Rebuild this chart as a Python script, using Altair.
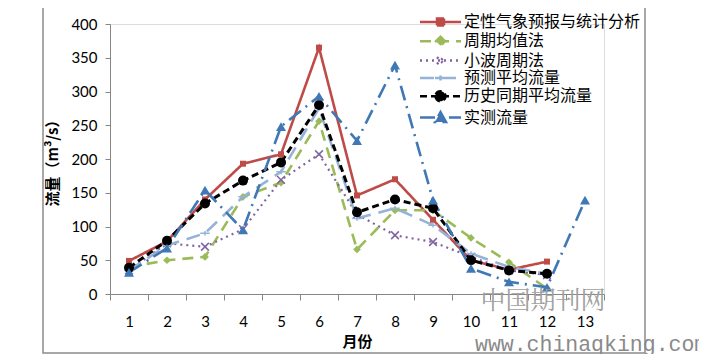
import altair as alt
import pandas as pd

months = list(range(1, 14))
series_names = ["定性气象预报与统计分析", "周期均值法", "小波周期法",
                "预测平均流量", "历史同期平均流量", "实测流量"]
red_vals = [49, 78, 140, 193, 207, 365, 146, 170, 110, 50, 36, 48]
green_vals = [40, 50, 55, 144, 165, 256, 66, 124, 124, 83, 47, 8]
purple_vals = [35, 75, 70, 96, 169, 207, 118, 87, 77, 55, 35, 28]
lblue_vals = [35, 72, 90, 144, 181, 275, 112, 127, 102, 60, 40, 30]
black_vals = [39, 79, 134, 168, 195, 280, 121, 140, 127, 50, 35, 30]
blue_vals = [32, 68, 154, 95, 248, 293, 227, 339, 139, 38, 18, 10, 139]
all_vals = [red_vals, green_vals, purple_vals, lblue_vals, black_vals, blue_vals]

rows = []
for name, vals in zip(series_names, all_vals):
    for m, v in zip(months, vals):
        rows.append({"series": name, "month": m, "value": v})
df = pd.DataFrame(rows)

colors = ["#BE4B48", "#9BBB59", "#8064A2", "#95B3D7", "#000000", "#3F78B5"]
dashes = [[1, 0], [11, 7], [2, 4], [14, 8], [7, 4], [15, 6, 2, 6]]
widths = [2.6, 2.6, 2.2, 2.6, 3.0, 2.6]
shapes = ["square", "diamond", "M-1,-1L1,1M-1,1L1,-1", "M-1,0H1M0,-0.5V0.5",
          "circle", "triangle-up"]
sizes = [36, 60, 60, 90, 100, 100]
filled = [True, True, False, False, True, True]

# legend symbols: size 100 -> 5px per unit, symbol centre at 5px from legend left
legend_paths = [
    "M-1,0H7.2M2.4,-0.7H3.8V0.7H2.4Z",
    "M-1,0H7.2M3.1,-0.9L4.0,0L3.1,0.9L2.2,0Z",
    "M-1,0H7.2M2.4,-0.7L3.8,0.7M2.4,0.7L3.8,-0.7",
    "M-1,0H7.2M2.0,0H4.2M3.1,-0.5V0.5",
    "M-1,0H7.2M2.1,0A1,1 0 1,0 4.1,0A1,1 0 1,0 2.1,0Z",
    "M-1,0H7.2M3.1,-1.1L4.2,0.9H2.0Z",
]
legend_fills = ["#BE4B48", "#9BBB59", "transparent", "transparent", "#000000", "#3F78B5"]

num_font = "Lato"
cjk_font = "Noto Sans CJK SC"

x_enc = alt.X("month:O",
              scale=alt.Scale(type="band", domain=months, paddingInner=0, paddingOuter=0),
              bandPosition=0.5,
              axis=alt.Axis(title="月份", tickBand="extent", labelAngle=0,
                            labelFont=num_font, labelFontSize=15, labelColor="#000",
                            labelPadding=14, tickSize=6, tickColor="#868686",
                            domainColor="#868686", titleFont=cjk_font, titleFontSize=15,
                            titleFontWeight="bold", titlePadding=5, titleColor="#000"))
y_enc = alt.Y("value:Q",
              scale=alt.Scale(domain=[0, 400], nice=False),
              axis=alt.Axis(title="流量（m³/s）", values=list(range(0, 401, 50)),
                            grid=False, labelFont=num_font, labelFontSize=15,
                            labelColor="#000", labelPadding=8, tickSize=5,
                            tickColor="#868686", domainColor="#868686",
                            titleFont=cjk_font, titleFontSize=15, titleFontWeight="bold",
                            titlePadding=10, titleColor="#000"))

one = pd.DataFrame({"k": [0]})
frame = alt.Chart(one).mark_rect(fill="transparent", stroke="#8c8c8c", strokeWidth=1.5).encode(
    x=alt.value(-67), x2=alt.value(535), y=alt.value(-17), y2=alt.value(329))

base = alt.Chart(df)
layers = [frame]
for i, name in enumerate(series_names):
    sub = base.transform_filter(alt.datum.series == name)
    layers.append(sub.mark_line(color=colors[i], strokeDash=dashes[i],
                                strokeWidth=widths[i]).encode(x=x_enc, y=y_enc))
for i, name in enumerate(series_names):
    sub = base.transform_filter(alt.datum.series == name)
    layers.append(sub.mark_point(shape=shapes[i], size=sizes[i], filled=filled[i],
                                 color=colors[i], opacity=1,
                                 strokeWidth=1.5).encode(x=x_enc, y=y_enc))

leg = alt.Legend(title=None, orient="none", legendX=307, legendY=-10,
                 labelFont=cjk_font, labelFontSize=16, labelColor="#000",
                 labelLimit=400, symbolSize=100, symbolStrokeWidth=2.5,
                 rowPadding=0.3, labelOffset=31, padding=0)
legend_layer = base.transform_filter("false").mark_point(opacity=1).encode(
    x=x_enc, y=y_enc,
    shape=alt.Shape("series:N", scale=alt.Scale(domain=series_names, range=legend_paths), legend=leg),
    stroke=alt.Stroke("series:N", scale=alt.Scale(domain=series_names, range=colors), legend=leg),
    fill=alt.Fill("series:N", scale=alt.Scale(domain=series_names, range=legend_fills), legend=leg),
    strokeDash=alt.StrokeDash("series:N", scale=alt.Scale(domain=series_names, range=dashes), legend=leg),
)
layers.append(legend_layer)

wm1 = alt.Chart(pd.DataFrame({"t": ["中国期刊网"]})).mark_text(
    font="Noto Serif CJK SC", fontSize=25, color="#a0a0a0", align="center", baseline="middle"
).encode(text="t:N", x=alt.value(433), y=alt.value(277))
wm2 = alt.Chart(pd.DataFrame({"t": ["www.chinaqking.com"]})).mark_text(
    font="Liberation Mono", fontSize=21.5, color="#8a8a8a", align="left", baseline="middle"
).encode(text="t:N", x=alt.value(365), y=alt.value(321))
layers += [wm1, wm2]

chart = alt.layer(*layers).properties(
    width=494, height=270,
    padding={"left": 102, "top": 16, "right": 95, "bottom": 60},
    autosize=alt.AutoSizeParams(type="none"),
).configure_view(stroke=None).configure(background="white")

chart.save("out.html", embed_options={"renderer": "svg", "actions": False})
